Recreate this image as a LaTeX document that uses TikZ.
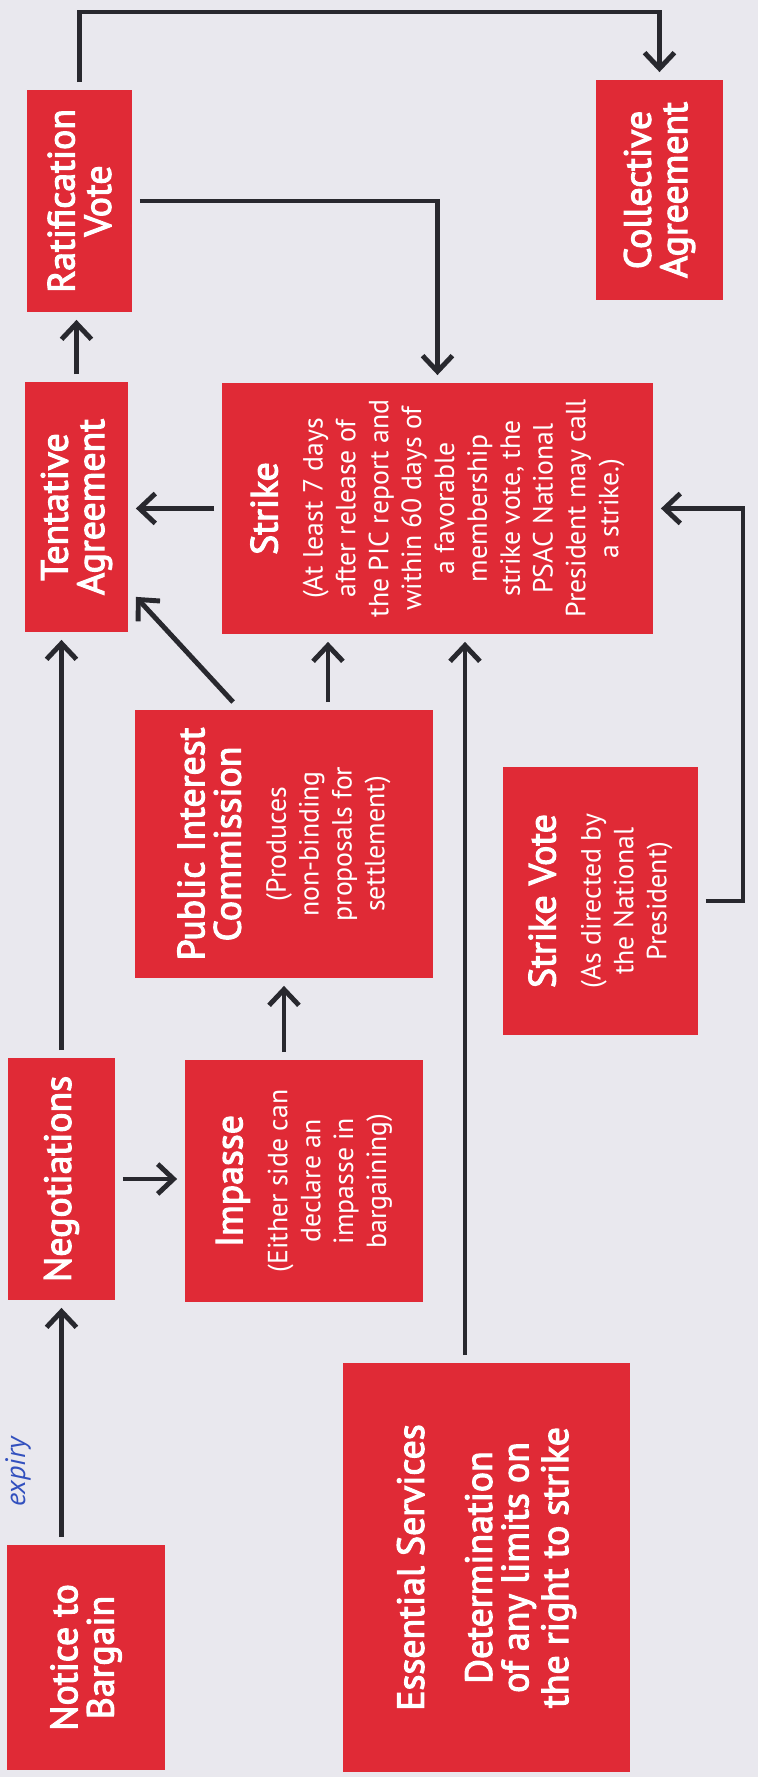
\documentclass[tikz,border=0pt]{standalone}
\usepackage{fontspec}
\setmainfont{PT Sans}
\newfontfamily\headfont{PT Sans}[FakeBold=3]
\usetikzlibrary{arrows.meta,calc}

\definecolor{paper}{RGB}{233,232,238}
\definecolor{boxred}{RGB}{224,42,54}
\definecolor{linegray}{RGB}{40,40,46}
\definecolor{penblue}{RGB}{50,80,190}

\newcommand{\bodyfont}{\fontsize{15.8}{18.7}\selectfont}
\newcommand{\hd}[1]{{\headfont\fontsize{21.5}{21}\selectfont #1}}

\tikzset{
  stage/.style={rectangle, fill=boxred, text=white, align=center, inner sep=0pt, outer sep=4.5pt, font=\bodyfont},
  flow/.style={draw=linegray, line width=2.8pt, -{Straight Barb[length=9pt,width=17pt]}},
  note/.style={text=penblue, font=\itshape\fontsize{16}{18}\selectfont, inner sep=0pt},
}

\begin{document}
\begin{tikzpicture}[x=1cm,y=1cm,rotate=90,transform shape]
% drawn in landscape, turned a quarter
\fill[paper] (0,0) rectangle (35.54,15.16);
\useasboundingbox (0,0) rectangle (35.54,15.16);

% top row
\node[stage, minimum width=4.5cm, minimum height=3.16cm] (notice) at (2.39,13.44) {\hd{Notice to}\\[2pt]\hd{Bargain}};
\node[stage, minimum width=4.84cm, minimum height=2.14cm] (negot) at (11.96,13.93) {\hd{Negotiations}};
\node[stage, minimum width=5.0cm, minimum height=2.06cm] (tentative) at (25.40,13.63) {\hd{Tentative}\\[2pt]\hd{Agreement}};
\node[stage, minimum width=4.44cm, minimum height=2.1cm] (ratify) at (31.52,13.57) {\hd{Ratification}\\[2pt]\hd{Vote}};

% middle
\node[stage, minimum width=4.84cm, minimum height=4.76cm] (impasse) at (11.92,9.08) {\hd{Impasse}\\[7pt](Either side can\\declare an\\impasse in\\bargaining)};
\node[stage, minimum width=5.36cm, minimum height=5.96cm] (pic) at (18.66,9.48) {\hd{Public Interest}\\[2pt]\hd{Commission}\\[7pt](Produces\\non-binding\\proposals for\\settlement)};
\node[stage, minimum width=5.02cm, minimum height=8.62cm] (strike) at (25.37,6.41) {\hd{Strike}\\[7pt](At least 7 days\\after release of\\the PIC report and\\within 60 days of\\a favorable\\membership\\strike vote, the\\PSAC National\\President may call\\a strike.)};
\node[stage, minimum width=4.4cm, minimum height=2.54cm] (collective) at (31.74,1.97) {\hd{Collective}\\[2pt]\hd{Agreement}};

% bottom
\node[stage, minimum width=8.18cm, minimum height=5.74cm] (essential) at (4.19,5.43) {\hd{Essential Services}\\[20pt]\hd{Determination}\\[2pt]\hd{of any limits on}\\[2pt]\hd{the right to strike}};
\node[stage, minimum width=5.36cm, minimum height=3.9cm] (vote) at (17.52,3.15) {\hd{Strike Vote}\\[7pt](As directed by\\the National\\President)};

\node[note] (expiry) at (6.10,14.80) {expiry};

\coordinate (topturn) at (35.30,13.57);
\coordinate (lowturn) at (17.52,0.30);

\draw[flow] (notice.east |- negot.west) -- (negot.west);
\draw[flow] (negot.east) -- (negot.east -| tentative.west);
\draw[flow] (negot.south) -- (negot.south |- impasse.north);
\draw[flow] (impasse.east |- pic.west) -- (pic.west);
\draw[flow] ([yshift=-0.88cm]pic.east) -- ([yshift=-0.88cm]pic.east -| strike.west);
\draw[flow] ([yshift=-2.12cm]pic.north east) -- ([xshift=0.86cm]tentative.south west);
\draw[flow] (strike.north) -- (strike.north |- tentative.south);
\draw[flow] (tentative.east) -- (tentative.east -| ratify.west);
\draw[flow] (ratify.east) -- (ratify.east -| topturn) |- (collective.east);
\draw[flow] (ratify.south) |- (strike.east);
\draw[flow] ([yshift=0.43cm]essential.east) -- ([yshift=0.43cm]essential.east -| strike.west);
\draw[flow] (vote.south) -- (vote.south |- lowturn) -| (strike.south);
\end{tikzpicture}
\end{document}
